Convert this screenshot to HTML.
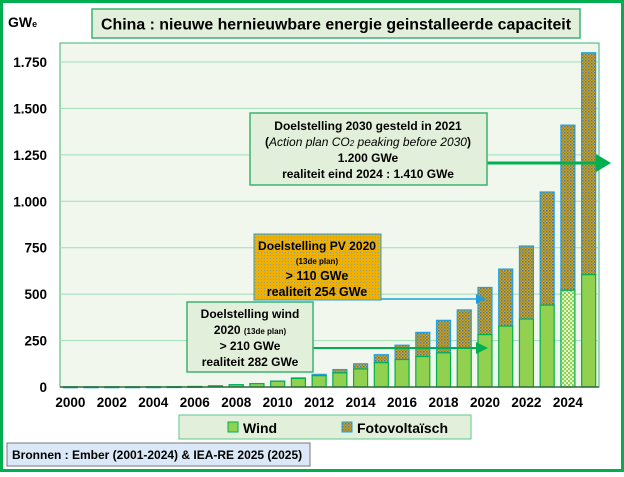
<!DOCTYPE html>
<html><head><meta charset="utf-8">
<style>
body{margin:0;background:#fff;font-family:"Liberation Sans",sans-serif}
svg text{font-family:"Liberation Sans",sans-serif;font-weight:bold}
</style></head>
<body>
<svg id="chart" width="624" height="472" xmlns="http://www.w3.org/2000/svg">
<defs>
<pattern id="pv" width="3" height="3" patternUnits="userSpaceOnUse">
<rect width="3" height="3" fill="#d9a414"/><rect width="1.5" height="1.5" fill="#4f7898"/><rect x="1.5" y="1.5" width="1.5" height="1.5" fill="#8c8a48"/>
</pattern>
<pattern id="pvbox" width="3" height="3" patternUnits="userSpaceOnUse">
<rect width="3" height="3" fill="#f0b000"/><rect width="1" height="1" fill="#8aa0a0"/>
</pattern>
<pattern id="w24" width="4" height="4" patternUnits="userSpaceOnUse">
<rect width="4" height="4" fill="#e4f4d0"/><rect width="2" height="2" fill="#92d050"/><rect x="2" y="2" width="2" height="2" fill="#92d050"/>
</pattern>
</defs>
<rect x="1.5" y="1.5" width="621" height="469" fill="#fff" stroke="#00b050" stroke-width="3"/>
<text x="8" y="27" font-size="14">GW<tspan font-size="9">e</tspan></text>
<rect x="92" y="9" width="488" height="29" fill="#e2efda" stroke="#3cb371" stroke-width="1.5"/>
<text x="336" y="29.5" font-size="15.5" text-anchor="middle" textLength="470" lengthAdjust="spacingAndGlyphs">China : nieuwe hernieuwbare energie geinstalleerde capaciteit</text>
<rect x="60" y="43" width="539" height="344" fill="#f2f7ee" stroke="#3cb371" stroke-width="1"/>
<g id="grid"></g>
<g id="bars"></g>
<line x1="60" y1="387" x2="599" y2="387" stroke="#2e6b3a" stroke-width="1.5"/>
<g id="ticks"></g>

<line x1="487" y1="163" x2="598" y2="163" stroke="#00b050" stroke-width="3"/>
<polygon points="596,154 611,163 596,172" fill="#00b050"/>
<rect x="250" y="113" width="237" height="72" fill="#e2efda" stroke="#3cb371" stroke-width="1.5"/>
<g font-size="12" text-anchor="middle">
<text x="368" y="130">Doelstelling 2030 gesteld in 2021</text>
<text x="368" y="146">(<tspan font-style="italic" font-weight="normal">Action plan CO</tspan><tspan font-size="8" font-style="italic" font-weight="normal">2</tspan><tspan font-style="italic" font-weight="normal"> peaking before 2030</tspan>)</text>
<text x="368" y="162">1.200 GWe</text>
<text x="368" y="178">realiteit eind 2024 : 1.410 GWe</text>
</g>
<line x1="381" y1="299" x2="478" y2="299" stroke="#1ea0e0" stroke-width="1.5"/>
<polygon points="476,294 486,299 476,304" fill="#1ea0e0"/>
<rect x="254" y="234" width="127" height="66" fill="url(#pvbox)" stroke="#1ea0e0" stroke-width="1"/>
<g text-anchor="middle">
<text x="317" y="250" font-size="12" textLength="118" lengthAdjust="spacingAndGlyphs">Doelstelling PV 2020</text>
<text x="317" y="264" font-size="8">(13de plan)</text>
<text x="317" y="280" font-size="12.5">&gt; 110 GWe</text>
<text x="317" y="296" font-size="12.5">realiteit 254 GWe</text>
</g>
<line x1="313" y1="348" x2="478" y2="348" stroke="#00b050" stroke-width="2"/>
<polygon points="476,342 488,348 476,354" fill="#00b050"/>
<rect x="187" y="302" width="126" height="70" fill="#e2efda" stroke="#3cb371" stroke-width="1.5"/>
<g text-anchor="middle" font-size="12">
<text x="250" y="318">Doelstelling wind</text>
<text x="250" y="334">2020 <tspan font-size="8">(13de plan)</tspan></text>
<text x="250" y="350">&gt; 210 GWe</text>
<text x="250" y="366">realiteit 282 GWe</text>
</g>
<rect x="179" y="415" width="292" height="24" fill="#e2efda" stroke="#5cc98a" stroke-width="1"/>
<rect x="228" y="422" width="10" height="10" fill="#92d050" stroke="#00b050"/>
<text x="243" y="433" font-size="14">Wind</text>
<rect x="342" y="422" width="10" height="10" fill="url(#pv)" stroke="#1ea0e0"/>
<text x="357" y="433" font-size="14">Fotovoltaïsch</text>
<rect x="7" y="443" width="303" height="23" fill="#dbe8f8" stroke="#777" stroke-width="1"/>
<text x="12" y="459" font-size="12">Bronnen : Ember (2001-2024) &amp; IEA-RE 2025 (2025)</text>
</svg>
<script>
const years=[2000,2001,2002,2003,2004,2005,2006,2007,2008,2009,2010,2011,2012,2013,2014,2015,2016,2017,2018,2019,2020,2021,2022,2023,2024,2025];
const wind=[0.3,0.4,0.5,0.6,0.8,1.3,2.6,5.9,12,18,31,46,61,76,97,131,148,164,184,210,282,328,366,441,521,605];
const solar=[0.1,0.1,0.1,0.1,0.1,0.1,0.1,0.1,0.2,0.4,1,3,7,18,28,43,77,130,175,205,254,307,393,609,889,1195];
const yTicks=[0,250,500,750,1000,1250,1500,1750];
const yTickLabels=["0","250","500","750","1.000","1.250","1.500","1.750"];
const NS="http://www.w3.org/2000/svg";
const x0=60,x1=599,yb=387,yt=62,yMax=1750;
const band=(x1-x0)/years.length;
const xs=i=>x0+band*(i+0.5);
const ys=v=>yb-(v/yMax)*(yb-yt);
function mk(tag,attrs,parent){const e=document.createElementNS(NS,tag);for(const k in attrs)e.setAttribute(k,attrs[k]);parent.appendChild(e);return e;}
const grid=document.getElementById('grid'),ticks=document.getElementById('ticks'),bars=document.getElementById('bars');
yTicks.forEach((v,i)=>{
 if(v>0){const l=mk('line',{x1:x0,x2:x1,y1:ys(v),y2:ys(v),stroke:'#9ee0b8','stroke-width':1},grid);
 
 }
 const t=mk('text',{x:47,y:ys(v)+5,'font-size':13.5,'text-anchor':'end'},ticks);
 t.textContent=yTickLabels[i];
 
 
});
years.forEach((yr,i)=>{
 const bw=14,x=xs(i)-bw/2;
 const wTop=ys(wind[i]),sTop=ys(wind[i]+solar[i]);
 const s=mk('rect',{x:x,y:sTop,width:bw,height:Math.max(wTop-sTop,0.8),fill:'url(#pv)',stroke:'#1ea0e0','stroke-width':1.2},bars);
 
 
 const w=mk('rect',{x:x,y:wTop,width:bw,height:yb-wTop,fill:yr===2024?'url(#w24)':'#92d050',stroke:'#00b050','stroke-width':1.2},bars);
 
 
 if(i%2===0){const t=mk('text',{x:xs(i),y:407,'font-size':13.5,'text-anchor':'middle'},ticks);
 t.textContent=yr;
 
 }
});
</script>
</body></html>
